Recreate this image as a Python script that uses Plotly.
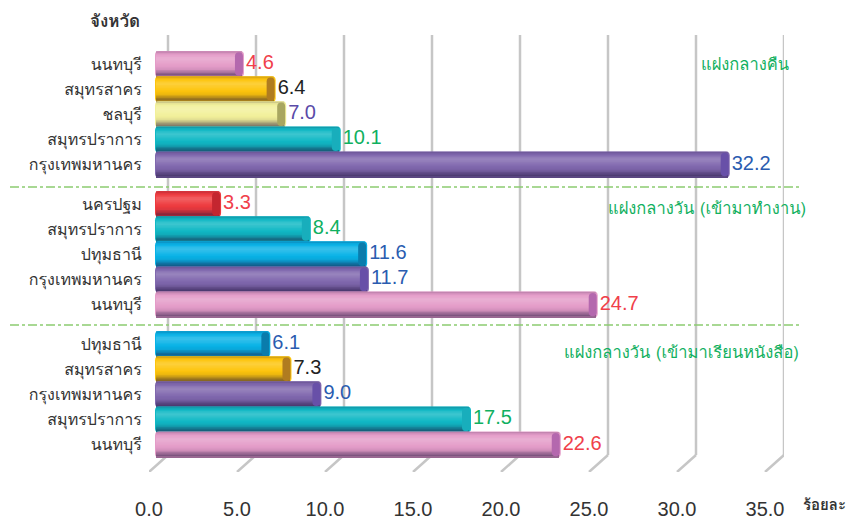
import plotly.graph_objects as go

groups = ["แฝงกลางคืน", "แฝงกลางวัน (เข้ามาทำงาน)", "แฝงกลางวัน (เข้ามาเรียนหนังสือ)"]
provinces_night = ["นนทบุรี", "สมุทรสาคร", "ชลบุรี", "สมุทรปราการ", "กรุงเทพมหานคร"]
values_night = [4.6, 6.4, 7.0, 10.1, 32.2]
provinces_work = ["นครปฐม", "สมุทรปราการ", "ปทุมธานี", "กรุงเทพมหานคร", "นนทบุรี"]
values_work = [3.3, 8.4, 11.6, 11.7, 24.7]
provinces_study = ["ปทุมธานี", "สมุทรสาคร", "กรุงเทพมหานคร", "สมุทรปราการ", "นนทบุรี"]
values_study = [6.1, 7.3, 9.0, 17.5, 22.6]
x_ticks = [0, 5, 10, 15, 20, 25, 30, 35]

# province styles: body colour, cap colour, label colour
STYLE = {
    "นนทบุรี": ("#e49cc8", "#b468ae", "#f0404a"),
    "สมุทรสาคร": ("#fdc40c", "#b07c20", "#222222"),
    "ชลบุรี": ("#f2f09a", "#a8a660", "#5a4aa8"),
    "สมุทรปราการ": ("#10b8c4", "#18aebc", "#10b060"),
    "กรุงเทพมหานคร": ("#8068ae", "#6850a8", "#2a5cb0"),
    "นครปฐม": ("#ee3a3e", "#c42630", "#f0404a"),
    "ปทุมธานี": ("#08b2e6", "#0a7cac", "#2a5cb0"),
}

provinces = provinces_night + provinces_work + provinces_study
values = values_night + values_work + values_study
GAP = 5.57
pos = [g * GAP + j for g in range(3) for j in range(5)]

OFF = 8            # the page's own margin shifts the figure by this many pixels
PX = 17.6          # pixels per x unit
SLOT = 25.14       # pixels per y slot
W, H = 856 - OFF, 519 - OFF
L, R, T, B = 149 - OFF, 784 - OFF, 35 - OFF, 472 - OFF
x0_px, y0_px = 158 - OFF, 64 - OFF
xr = [(L - x0_px) / PX, (R - x0_px) / PX]
yr = [(B - y0_px) / SLOT, (T - y0_px) / SLOT]
THAI = "Loma, Garuda, Sarabun, Noto Sans Thai Looped, Noto Sans Thai, Noto Sans, DejaVu Sans"
NUM = "Liberation Sans"


def yv(p):
    return (p - OFF - y0_px) / SLOT


def px(x):
    return (x - OFF - L) / (R - L)


def py(y):
    return 1 - (y - OFF - T) / (B - T)


def mix(c, t, f):
    a = [int(c[i:i + 2], 16) for i in (1, 3, 5)]
    b = [int(t[i:i + 2], 16) for i in (1, 3, 5)]
    return "rgb(%d,%d,%d)" % tuple(round(u + (v - u) * f) for u, v in zip(a, b))


fig = go.Figure()

# 3-D wall lines: each tick has a floor stroke and a vertical back-wall stroke, under the bars
front, back = -9 / PX, 10 / PX
for t in x_ticks:
    fig.add_shape(type="line", xref="x", yref="y", layer="below", x0=t + front, x1=t + back,
                  y0=yv(472), y1=yv(455), line=dict(color="#c6c6c6", width=2.5))
    fig.add_shape(type="line", xref="x", yref="y", layer="below", x0=t + back, x1=t + back,
                  y0=yv(455), y1=yr[1], line=dict(color="#c6c6c6", width=2.5))

# cylinder shading: (fraction of height, signed mix; + towards white, - towards dark)
stops = [(0, -.22), (.1, -.02), (.28, .2), (.5, .04), (.7, -.08), (.9, -.5), (.96, -.55), (1, .0)]


def shade(u):
    for (a, fa), (b, fb) in zip(stops, stops[1:]):
        if u <= b:
            return fa + (fb - fa) * (u - a) / (b - a)
    return stops[-1][1]


n = 18
height = 26 / SLOT
start, end = -3 / PX, 5 / PX
for p, prov, v in zip(pos, provinces, values):
    body, cap, _ = STYLE[prov]
    fig.add_trace(go.Bar(orientation="h", y=[p], x=[v + end - start], base=start, width=height,
                         offset=-height / 2,
                         marker=dict(color=body, line_width=0, cornerradius=4),
                         hoverinfo="skip", showlegend=False))
    for i in range(n):
        f = shade((i + .5) / n)
        col = mix(body, "#ffffff", f) if f > 0 else mix(body, "#1c1038", -f)
        top = i * height / n
        fig.add_trace(go.Bar(orientation="h", y=[p], x=[v + end - start - 3 / PX],
                             base=start + 1 / PX, width=height * .98 - top,
                             offset=-height * .49 + top,
                             marker=dict(color=col, line_width=0),
                             hoverinfo="skip", showlegend=False))
    fig.add_trace(go.Bar(orientation="h", y=[p], x=[8 / PX], base=v + end - 9 / PX,
                         width=height * .9, offset=-height * .45,
                         marker=dict(color=cap, line_width=0, cornerradius=4),
                         hoverinfo="skip", showlegend=False))

# value labels
fig.add_trace(go.Scatter(
    x=[v + end + 2 / PX for v in values], y=pos, mode="text",
    text=["%.1f" % v for v in values], textposition="middle right",
    textfont=dict(family=NUM, size=20, color=[STYLE[p][2] for p in provinces]),
    hoverinfo="skip", showlegend=False))

fig.update_layout(
    width=W, height=H, margin=dict(l=L, r=W - R, t=T, b=H - B, autoexpand=False),
    paper_bgcolor="white", plot_bgcolor="white", barmode="overlay",
    font=dict(family=THAI, color="#333333"),
    showlegend=False,
    xaxis=dict(range=xr, showgrid=False, zeroline=False, showline=False,
               tickvals=[t + front for t in x_ticks], ticktext=["%.1f" % t for t in x_ticks],
               ticks="outside", ticklen=19, tickcolor="rgba(0,0,0,0)",
               tickfont=dict(family=NUM, size=20, color="#333333")),
    yaxis=dict(range=yr, showgrid=False, zeroline=False, showline=False,
               tickvals=pos, ticktext=provinces, ticks="outside", ticklen=3,
               tickcolor="rgba(0,0,0,0)", tickfont=dict(size=16, color="#333333")),
)

# separators between groups
for sy in (187, 325):
    fig.add_shape(type="line", xref="paper", yref="y", x0=px(10), x1=px(802),
                  y0=yv(sy), y1=yv(sy),
                  line=dict(color="#8ccc70", width=1.3, dash="dashdot"), layer="above")

for name, xr_px, yc in zip(groups, (791, 808, 801), (64, 208, 352)):
    fig.add_annotation(xref="paper", yref="paper", x=px(xr_px), y=py(yc), text=name,
                       showarrow=False, xanchor="right", yanchor="middle",
                       font=dict(size=16.5, color="#12b060"))

fig.add_annotation(xref="paper", yref="paper", x=px(115), y=py(20), xanchor="center",
                   yanchor="middle", text="<b>จังหวัด</b>", showarrow=False,
                   font=dict(size=17, color="#333333"))
fig.add_annotation(xref="paper", yref="paper", x=px(824), y=py(505), xanchor="center",
                   yanchor="middle", text="<b>ร้อยละ</b>", showarrow=False,
                   font=dict(size=15, color="#333333"))

fig.write_html("out.html")
